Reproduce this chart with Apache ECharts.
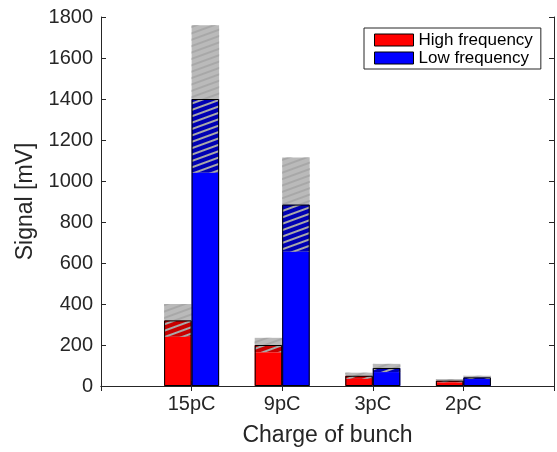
<!DOCTYPE html>
<html>
<head>
<meta charset="utf-8">
<script src="https://cdn.jsdelivr.net/npm/echarts@6/dist/echarts.min.js"></script>
<style>
html,body{margin:0;padding:0;background:#fff;}
#chart{width:557px;height:452px;}
</style>
</head>
<body>
<div id="chart"></div>
<script>
// ---- data ----
var categories = ['', '15pC', '9pC', '3pC', '2pC', ''];
var hfValues = ['-', 320, 200, 50, 26, '-'];
var hfErrors = ['-', 80, 35, 15, 8, '-'];
var lfValues = ['-', 1400, 885, 88, 42, '-'];
var lfErrors = ['-', 360, 230, 20, 8, '-'];
var yTicks = [0, 200, 400, 600, 800, 1000, 1200, 1400, 1600, 1800];

function base(vals, errs) {
  return vals.map(function (v, i) { return v === '-' ? '-' : v - errs[i]; });
}

var FONT = '"Liberation Sans", Arial, Helvetica, sans-serif';
var AX = '#262626';
var BW = 27.5;
var hatch = {
  symbol: 'rect', symbolSize: 1, color: '#a8a8a8',
  dashArrayX: [1, 0], dashArrayY: [1.6, 3.6], rotation: -0.35
};

var chart = echarts.init(document.getElementById('chart'), null, {renderer: 'canvas'});
var axisCommonX = {
  type: 'category', data: categories, boundaryGap: false,
  axisLine: {lineStyle: {color: AX, width: 1}},
  axisTick: {inside: true, length: 5, lineStyle: {color: AX}},
  splitLine: {show: false}
};
var axisCommonY = {
  type: 'value', min: yTicks[0], max: yTicks[yTicks.length - 1], interval: 200,
  axisLine: {show: true, lineStyle: {color: AX, width: 1}},
  axisTick: {show: true, inside: true, length: 5, lineStyle: {color: AX}},
  splitLine: {show: false}
};

chart.setOption({
  animation: false,
  backgroundColor: '#fff',
  textStyle: {fontFamily: FONT},
  grid: {left: 101, right: 1, top: 17, bottom: 60},
  legend: {
    data: [{name: 'High frequency', icon: 'rect'}, {name: 'Low frequency', icon: 'rect'}],
    orient: 'vertical', left: 364, top: 28,
    itemWidth: 39, itemHeight: 12, itemGap: 0,
    padding: [3, 8, 2, 10],
    borderColor: AX, borderWidth: 1, backgroundColor: '#fff',
    textStyle: {fontFamily: FONT, fontSize: 17, color: '#000', lineHeight: 18},
    itemStyle: {borderColor: '#000', borderWidth: 1}
  },
  xAxis: [
    Object.assign({}, axisCommonX, {
      position: 'bottom',
      axisLabel: {fontSize: 20, color: AX, margin: 8, fontFamily: FONT},
      name: 'Charge of bunch', nameLocation: 'middle', nameGap: 38,
      nameTextStyle: {fontSize: 23, color: AX, fontFamily: FONT}
    }),
    Object.assign({}, axisCommonX, {
      position: 'top', axisLabel: {show: false}
    })
  ],
  yAxis: [
    Object.assign({}, axisCommonY, {
      position: 'left',
      axisLabel: {fontSize: 20, color: AX, margin: 8, fontFamily: FONT,
                  formatter: function (v) { return String(v); }},
      name: 'Signal [mV]', nameLocation: 'middle', nameGap: 62,
      nameTextStyle: {fontSize: 23, color: AX, fontFamily: FONT}
    }),
    Object.assign({}, axisCommonY, {
      position: 'right', axisLabel: {show: false}
    })
  ],
  series: [
    {name: 'High frequency', type: 'bar', stack: 'hf', barWidth: BW, barGap: '0%',
     data: base(hfValues, hfErrors), itemStyle: {color: '#ff0000', borderColor: '#000', borderWidth: 0}},
    {name: 'hfHatch', type: 'bar', stack: 'hf', barWidth: BW, barGap: '0%',
     data: hfErrors, itemStyle: {color: '#c80000', decal: hatch}},
    {name: 'hfErr', type: 'bar', stack: 'hf', barWidth: BW, barGap: '0%',
     data: hfErrors, itemStyle: {color: '#bababa', decal: hatch}},
    {name: 'Low frequency', type: 'bar', stack: 'lf', barWidth: BW, barGap: '0%',
     data: base(lfValues, lfErrors), itemStyle: {color: '#0000ff', borderColor: '#000', borderWidth: 0}},
    {name: 'lfHatch', type: 'bar', stack: 'lf', barWidth: BW, barGap: '0%',
     data: lfErrors, itemStyle: {color: '#0000b4', decal: hatch}},
    {name: 'lfErr', type: 'bar', stack: 'lf', barWidth: BW, barGap: '0%',
     data: lfErrors, itemStyle: {color: '#bababa', decal: hatch}},
    {name: 'hfOutline', type: 'bar', xAxisIndex: 1, barWidth: BW, barGap: '0%', z: 5,
     data: hfValues, itemStyle: {color: 'rgba(0,0,0,0)', borderColor: '#000', borderWidth: 1}},
    {name: 'lfOutline', type: 'bar', xAxisIndex: 1, barWidth: BW, barGap: '0%', z: 5,
     data: lfValues, itemStyle: {color: 'rgba(0,0,0,0)', borderColor: '#000', borderWidth: 1}}
  ]
});
</script>
</body>
</html>
